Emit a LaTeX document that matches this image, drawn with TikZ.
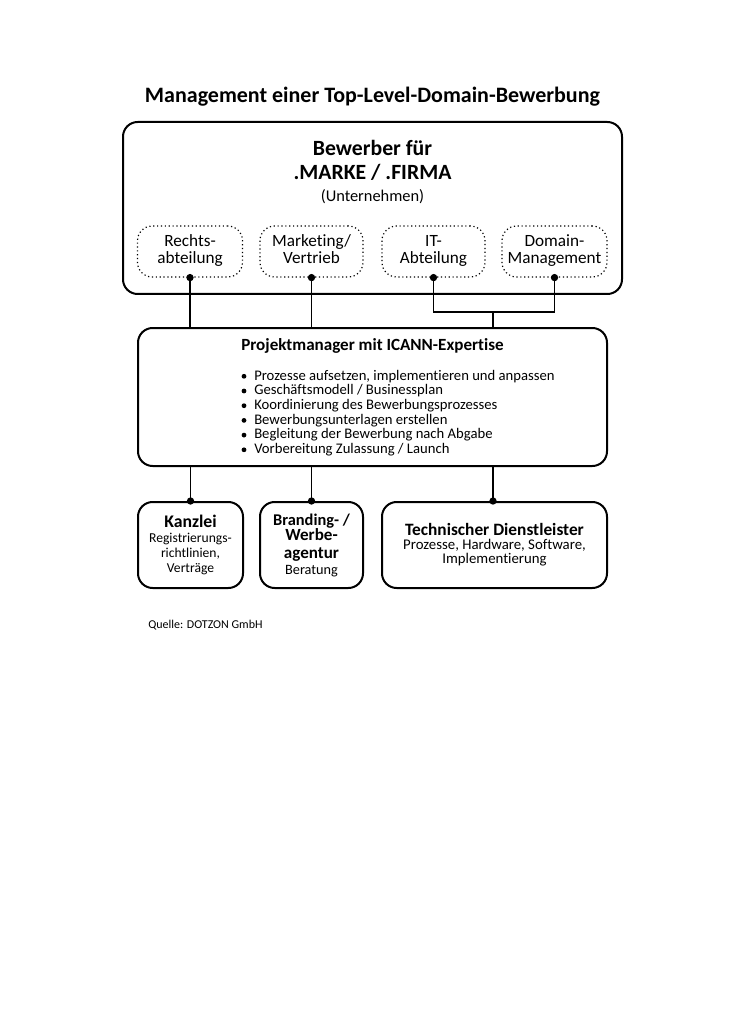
\documentclass[tikz,border=0pt]{standalone}
\usepackage{fontspec}
\setmainfont{Carlito}[Ligatures=NoCommon]
\newcommand{\fs}[1]{\fontsize{#1}{#1}\selectfont}
\begin{document}
\begin{tikzpicture}[x=0.75pt,y=-0.75pt,
  box/.style={draw, line width=1.5pt, rounded corners=11pt, inner sep=0pt},
  dbox/.style={draw, dotted, line width=0.9pt, rounded corners=11pt, inner sep=0pt},
  conn/.style={line width=1.1pt},
  jdot/.style={circle, fill, inner sep=0pt, minimum size=5.5pt},
  bul/.style={circle, fill, inner sep=0pt, minimum size=3.6pt},
  txt/.style={anchor=base, inner sep=0pt},
  ltxt/.style={anchor=base west, inner sep=0pt}]
\useasboundingbox (0,0) rectangle (728,1030);

% title
\node[txt, font=\bfseries\fs{16.5}] (title) at (372.5,103) {Management einer Top-Level-Domain-Bewerbung};

% outer box
\node[box, minimum width=374.25pt, minimum height=129pt] (outer) at (372.5,208) {};
\node[txt, font=\bfseries\fs{16.3}] (bew1) at (372.5,156) {Bewerber für};
\node[txt, font=\bfseries\fs{16.3}] (bew2) at (372.5,180) {.MARKE / .FIRMA};
\node[txt, font=\fs{12.3}] (bew3) at (372.5,202) {(Unternehmen)};

% dotted department boxes
\node[dbox, minimum width=78.75pt, minimum height=38.25pt] (recht) at (190,251.5) {};
\node[dbox, minimum width=77.25pt, minimum height=38.25pt] (mark) at (311.5,251.5) {};
\node[dbox, minimum width=77.25pt, minimum height=38.25pt] (it) at (433.5,251.5) {};
\node[dbox, minimum width=78.75pt, minimum height=38.25pt] (dom) at (554.5,251.5) {};
\node[txt, font=\fs{12.9}] (recht1) at (190,247) {Rechts-};
\node[txt, font=\fs{12.9}] (recht2) at (190,264) {abteilung};
\node[txt, font=\fs{12.9}] (mark1) at (311.5,247) {Marketing/};
\node[txt, font=\fs{12.9}] (mark2) at (311.5,264) {Vertrieb};
\node[txt, font=\fs{12.9}] (it1) at (433.5,247) {IT-};
\node[txt, font=\fs{12.9}] (it2) at (433.5,264) {Abteilung};
\node[txt, font=\fs{12.9}] (dom1) at (554.5,247) {Domain-};
\node[txt, font=\fs{12.9}] (dom2) at (554.5,264) {Management};

% project manager box
\node[box, minimum width=351.75pt, minimum height=103.5pt] (pm) at (372.5,397) {};
\node[txt, font=\bfseries\fs{12.8}] (pmt) at (372.5,350) {Projektmanager mit ICANN-Expertise};
\foreach \t [count=\i] in {Prozesse aufsetzen{,} implementieren und anpassen,
  Geschäftsmodell / Businessplan,
  Koordinierung des Bewerbungsprozesses,
  Bewerbungsunterlagen erstellen,
  Begleitung der Bewerbung nach Abgabe,
  Vorbereitung Zulassung / Launch}{
  \node[ltxt, font=\fs{11}] (b\i) at (254,{380+(\i-1)*14.7}) {\t};
  \node[bul] (bd\i) at (244,{376.3+(\i-1)*14.7}) {};
}

% bottom boxes
\node[box, minimum width=78.75pt, minimum height=64.5pt] (kanz) at (190.5,545) {};
\node[box, minimum width=77.25pt, minimum height=64.5pt] (brand) at (311.5,545) {};
\node[box, minimum width=168.75pt, minimum height=64.5pt] (tech) at (494.5,545) {};

\node[txt, font=\bfseries\fs{13.3}] (k1) at (190.5,527) {Kanzlei};
\node[txt, font=\fs{10.2}] (k2) at (190.5,542) {Registrierungs-};
\node[txt, font=\fs{10.2}] (k3) at (190.5,557) {richtlinien,};
\node[txt, font=\fs{10.2}] (k4) at (190.5,572) {Verträge};

\node[txt, font=\bfseries\fs{12.3}] (br1) at (311.5,525) {Branding- /};
\node[txt, font=\bfseries\fs{12.8}] (br2) at (311.5,540) {Werbe-};
\node[txt, font=\bfseries\fs{12.8}] (br3) at (311.5,558) {agentur};
\node[txt, font=\fs{10.7}] (br4) at (311.5,574) {Beratung};

\node[txt, font=\bfseries\fs{13}] (t1) at (494.5,535) {Technischer Dienstleister};
\node[txt, font=\fs{11.1}] (t2) at (494.5,549) {Prozesse, Hardware, Software,};
\node[txt, font=\fs{11.1}] (t3) at (494.5,563) {Implementierung};

% source
\node[ltxt, font=\fs{9}] (src) at (148,628) {Quelle: DOTZON GmbH};

% connectors
\coordinate (j) at (493,312);
\draw[conn] (recht.south) -- (recht.south |- pm.north);
\draw[conn] (mark.south) -- (mark.south |- pm.north);
\draw[conn] (it.south) |- (j) -| (dom.south);
\draw[conn] (j) -- (j |- pm.north);
\draw[conn] (kanz.north |- pm.south) -- (kanz.north);
\draw[conn] (brand.north |- pm.south) -- (brand.north);
\draw[conn] (j |- pm.south) -- (j |- tech.north);

\node[jdot] at (recht.south) {};
\node[jdot] at (mark.south) {};
\node[jdot] at (it.south) {};
\node[jdot] at (dom.south) {};
\node[jdot] at (kanz.north) {};
\node[jdot] at (brand.north) {};
\node[jdot] at (j |- tech.north) {};
\end{tikzpicture}
\end{document}
